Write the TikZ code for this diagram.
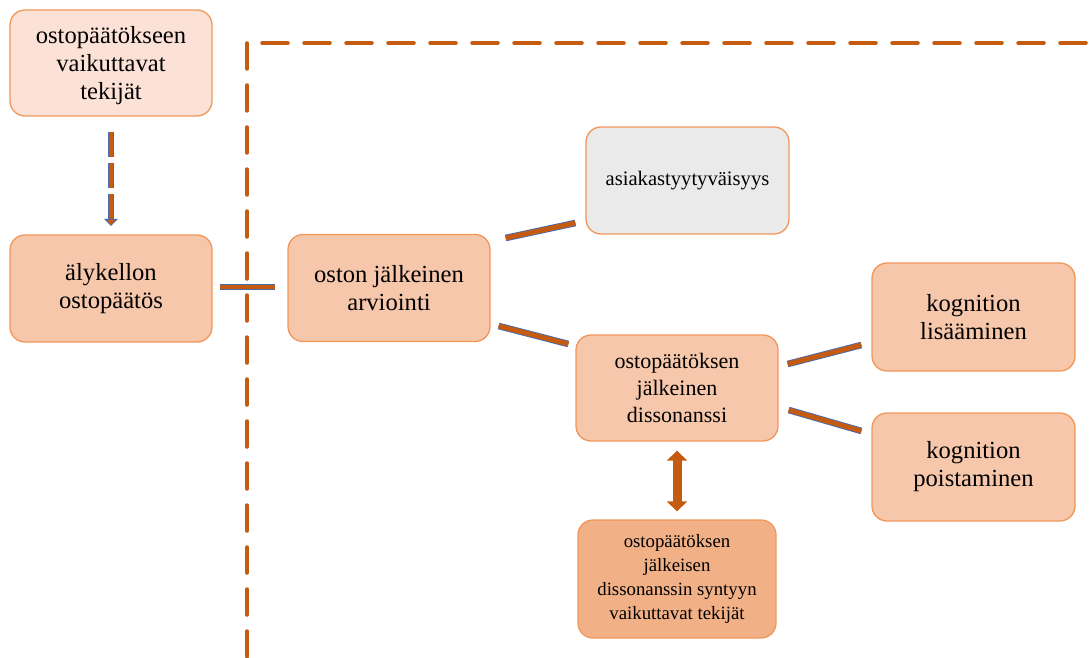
\documentclass[tikz,border=0pt]{standalone}
\usepackage{fontspec}
\setmainfont{Liberation Serif}
\usetikzlibrary{arrows.meta,calc}
\definecolor{topfill}{HTML}{FCE2D6}
\definecolor{mainfill}{HTML}{F6C7AA}
\definecolor{grayfill}{HTML}{EAEAEA}
\definecolor{botfill}{HTML}{F1B086}
\definecolor{boxborder}{HTML}{F0975A}
\definecolor{darkor}{HTML}{C55A11}
\definecolor{barblue}{HTML}{4A6AAE}
\tikzset{
  box/.style={draw=boxborder, line width=1.3pt, rounded corners=15pt, align=center,
    text=black, inner sep=0pt},
  bigtext/.style={font=\fontsize{24.6}{28}\selectfont},
  bar/.style={draw=barblue, line width=0.9pt, double=darkor, double distance=4.8pt},
  boundary/.style={draw=darkor, line width=3.5pt, line cap=round, dash pattern=on 26pt off 16pt},
  dshaft/.style={draw=barblue, line width=0.8pt, double=darkor, double distance=4.4pt, dash pattern=on 25.5pt off 5.5pt},
  dhead/.style={fill=darkor, draw=barblue, line width=0.8pt},
  dblarrow/.style={draw=darkor, line width=9pt, {Triangle[width=20pt,length=10pt]}-{Triangle[width=20pt,length=10pt]}}
}
\begin{document}
\begin{tikzpicture}[x=1pt,y=-1pt]
\useasboundingbox (0,0) rectangle (1089,658);
% boundary dashed lines
\coordinate (corner) at (247,43);
\coordinate (rightend) at (1089,43);
\coordinate (bottomend) at (247,660);
\draw[boundary] (corner) -- (bottomend);
\draw[boundary] ([xshift=15pt]corner) -- (rightend);
% boxes
\node[box, bigtext, fill=topfill, minimum width=202pt, minimum height=106pt, text depth=1pt] (top) at (111,63)
  {ostopäätökseen\\vaikuttavat\\tekijät};
\node[box, bigtext, fill=mainfill, minimum width=202pt, minimum height=107pt] (aly) at (111,288.5)
  {älykellon\\ostopäätös};
\node[box, bigtext, fill=mainfill, minimum width=202pt, minimum height=107pt] (oston) at (389,288)
  {oston jälkeinen\\arviointi};
\node[box, fill=grayfill, minimum width=203pt, minimum height=107pt, font=\fontsize{20.6}{24}\selectfont] (asiak) at (687.5,180.5)
  {asiakastyytyväisyys};
\node[box, fill=mainfill, minimum width=202pt, minimum height=106pt, font=\fontsize{22}{27}\selectfont] (disso) at (677,388)
  {ostopäätöksen\\jälkeinen\\dissonanssi};
\node[box, bigtext, fill=mainfill, minimum width=203pt, minimum height=108pt] (lisaa) at (973.5,317)
  {kognition\\lisääminen};
\node[box, bigtext, fill=mainfill, minimum width=203pt, minimum height=108pt] (poist) at (973.5,467)
  {kognition\\poistaminen};
\node[box, fill=botfill, minimum width=198pt, minimum height=118pt, font=\fontsize{18.8}{24.3}\selectfont] (bot) at (677,579)
  {ostopäätöksen\\jälkeisen\\dissonanssin syntyyn\\vaikuttavat tekijät};
% dashed arrow
\draw[dshaft] ([yshift=-15pt]top.south) -- ([yshift=15pt]aly.north);
\draw[dhead] ([shift={(-6pt,15pt)}]aly.north) -- ([shift={(6pt,15pt)}]aly.north) -- ([yshift=9pt]aly.north) -- cycle;
% bars
\draw[bar] ($(aly.east)+(7,-1.5)$) -- ($(oston.west)+(-12,-1)$);
\draw[bar] ($(oston.east)+(15,-50)$) -- ($(asiak.west)+(-10,42.5)$);
\draw[bar] ($(oston.east)+(8,38)$) -- ($(disso.west)+(-7,-44)$);
\draw[bar] ($(disso.east)+(9,-24)$) -- ($(lisaa.west)+(-10,28)$);
\draw[bar] ($(disso.east)+(10,22)$) -- ($(poist.west)+(-10,-36)$);
% double arrow
\draw[dblarrow] ([yshift=-9pt]disso.south) -- ([yshift=8pt]bot.north);
\end{tikzpicture}
\end{document}
